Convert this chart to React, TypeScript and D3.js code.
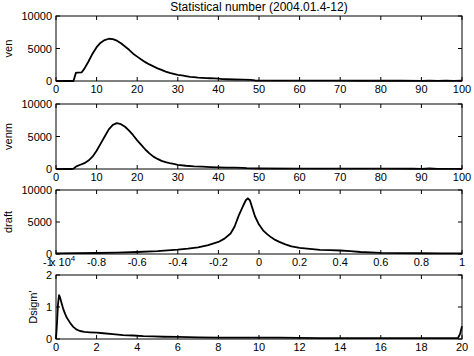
import React from "react";
import * as d3 from "d3";

const W = 474;
const H = 356;

const titleText = "Statistical number (2004.01.4-12)";

const venX = [0, 1, 2, 3, 4, 4.3, 4.9, 5.2, 6.3, 7, 8, 9, 10, 11, 12, 13, 14, 15, 16, 17, 18, 19, 20, 21, 22, 23, 24, 25, 26, 27, 28, 29, 30, 31, 32, 33, 34, 35, 36, 37, 38, 39, 40, 41, 42, 44, 46, 48, 49, 50, 55, 60, 65, 70, 75, 80, 85, 90, 92, 94, 96, 98, 100];
const venY = [0, 0, 0, 0, 0, 0, 1250, 1300, 1320, 1900, 3000, 4200, 5200, 5900, 6300, 6500, 6450, 6200, 5800, 5300, 4800, 4200, 3750, 3300, 2900, 2550, 2250, 1950, 1700, 1450, 1250, 1100, 950, 850, 750, 650, 580, 520, 480, 450, 420, 400, 380, 300, 270, 230, 200, 180, 80, 70, 60, 55, 50, 45, 40, 40, 35, 30, 60, 20, 70, 30, 50];

const venmX = [0, 1, 2, 3, 4, 4.3, 5, 6, 7, 8, 9, 10, 11, 12, 13, 14, 15, 16, 17, 18, 19, 20, 21, 22, 23, 24, 25, 26, 27, 28, 29, 30, 32, 34, 36, 38, 40, 42, 44, 46, 47, 50, 60, 70, 80, 88, 90, 92, 94, 96, 100];
const venmY = [0, 0, 0, 0, 0, 50, 400, 650, 900, 1300, 1900, 2800, 3900, 5000, 6100, 6800, 7050, 6900, 6500, 5900, 5200, 4400, 3700, 3000, 2400, 1900, 1550, 1250, 1050, 900, 800, 650, 500, 400, 350, 300, 250, 220, 200, 180, 120, 80, 60, 50, 50, 40, 30, 80, 20, 10, 10];

const draftX = [-1, -0.9, -0.8, -0.7, -0.6, -0.5, -0.4, -0.35, -0.3, -0.25, -0.2, -0.17, -0.14, -0.12, -0.1, -0.08, -0.065, -0.055, -0.045, -0.035, -0.02, 0, 0.02, 0.04, 0.06, 0.08, 0.1, 0.13, 0.16, 0.2, 0.25, 0.3, 0.35, 0.4, 0.45, 0.5, 0.6, 0.7, 0.8, 0.9, 1];
const draftY = [100, 130, 160, 220, 310, 450, 690, 850, 1050, 1400, 1880, 2400, 3200, 4300, 6000, 7400, 8400, 8700, 8400, 7400, 5900, 4600, 3700, 3100, 2600, 2200, 1900, 1500, 1200, 950, 800, 650, 600, 550, 450, 310, 180, 150, 120, 100, 90];

const dsX = [0, 0.05, 0.1, 0.15, 0.2, 0.28, 0.35, 0.44, 0.52, 0.61, 0.7, 0.85, 1, 1.18, 1.4, 1.67, 2, 2.33, 2.8, 3.3, 3.8, 4.3, 4.8, 5.3, 6, 7, 8, 9, 10, 11, 12, 13, 14, 15, 16, 17, 18, 19, 19.8, 19.9, 20];
const dsY = [0, 0.5, 1.1, 1.37, 1.3, 1.11, 0.95, 0.8, 0.68, 0.59, 0.5, 0.38, 0.3, 0.25, 0.22, 0.21, 0.2, 0.18, 0.15, 0.12, 0.11, 0.09, 0.08, 0.07, 0.065, 0.05, 0.045, 0.045, 0.04, 0.04, 0.035, 0.03, 0.03, 0.03, 0.03, 0.03, 0.03, 0.03, 0.03, 0.15, 0.4];

const ticks100 = [0, 10, 20, 30, 40, 50, 60, 70, 80, 90, 100];
const ticksDraft = [-1, -0.8, -0.6, -0.4, -0.2, 0, 0.2, 0.4, 0.6, 0.8, 1];
const tickLabelsDraft = ["-1", "-0.8", "-0.6", "-0.4", "-0.2", "0", "0.2", "0.4", "0.6", "0.8", "1"];
const ticks20 = [0, 2, 4, 6, 8, 10, 12, 14, 16, 18, 20];
const yTicks10000 = [0, 5000, 10000];
const yTicks2 = [0, 1, 2];

const FONT = "'Liberation Sans', Arial, Helvetica, sans-serif";
const FS = 11;

type PanelProps = {
  top: number;
  bottom: number;
  xs: number[];
  ys: number[];
  xDomain: [number, number];
  yDomain: [number, number];
  xTicks: number[];
  xTickLabels: string[];
  yTicks: number[];
  ylabel: string;
  exponent?: boolean;
};

const LEFT = 56;
const RIGHT = 462;

function Panel(p: PanelProps) {
  const x = d3.scaleLinear().domain(p.xDomain).range([LEFT, RIGHT]);
  const y = d3.scaleLinear().domain(p.yDomain).range([p.bottom, p.top]);
  const pts: [number, number][] = p.xs.map((v, i) => [v, p.ys[i]]);
  const line = d3
    .line<[number, number]>()
    .x((d) => x(d[0]))
    .y((d) => y(d[1]));
  const TL = 4;
  const yLabels = p.yTicks.map((t) => String(t));
  const maxLen = d3.max(yLabels, (s) => s.length) || 1;
  const labelW = maxLen * FS * 0.556;
  const ylabelX = 52 - labelW - 13;
  const midY = (p.top + p.bottom) / 2;
  return (
    <g>
      <path d={line(pts) || ""} fill="none" stroke="#000" strokeWidth={1.8} strokeLinejoin="round" />
      <rect x={LEFT} y={p.top} width={RIGHT - LEFT} height={p.bottom - p.top} fill="none" stroke="#000" strokeWidth={1} />
      {p.xTicks.map((t, i) => (
        <g key={"xt" + i}>
          <line x1={x(t)} x2={x(t)} y1={p.bottom} y2={p.bottom - TL} stroke="#000" />
          <line x1={x(t)} x2={x(t)} y1={p.top} y2={p.top + TL} stroke="#000" />
          <text
            x={p.exponent && i === 0 ? x(t) - 8 : x(t)}
            y={p.bottom + 12}
            textAnchor="middle"
            fontSize={FS}
            fontFamily={FONT}
          >
            {p.xTickLabels[i]}
          </text>
        </g>
      ))}
      {p.yTicks.map((t, i) => (
        <g key={"yt" + i}>
          <line x1={LEFT} x2={LEFT + TL} y1={y(t)} y2={y(t)} stroke="#000" />
          <line x1={RIGHT} x2={RIGHT - TL} y1={y(t)} y2={y(t)} stroke="#000" />
          <text x={52} y={y(t) + 4} textAnchor="end" fontSize={FS} fontFamily={FONT}>
            {yLabels[i]}
          </text>
        </g>
      ))}
      <text
        transform={`translate(${ylabelX},${midY}) rotate(-90)`}
        textAnchor="middle"
        dy={4}
        fontSize={FS}
        fontFamily={FONT}
      >
        {p.ylabel}
      </text>
      {p.exponent && (
        <text x={50} y={p.bottom + 12} fontSize={FS} fontFamily={FONT}>
          x 10
          <tspan dy={-5} fontSize={8}>4</tspan>
        </text>
      )}
    </g>
  );
}

export default function App() {
  return (
    <svg
      width={W}
      height={H}
      viewBox={`0 0 ${W} ${H}`}
      style={{ position: "absolute", left: 0, top: 0, background: "#fff" }}
    >
      <rect x={0} y={0} width={W} height={H} fill="#fff" />
      <text x={(LEFT + RIGHT) / 2} y={11} textAnchor="middle" fontSize={12} fontFamily={FONT}>
        {titleText}
      </text>
      <Panel top={16} bottom={81} xs={venX} ys={venY} xDomain={[0, 100]} yDomain={[0, 10000]} xTicks={ticks100} xTickLabels={ticks100.map(String)} yTicks={yTicks10000} ylabel="ven" />
      <Panel top={104} bottom={169} xs={venmX} ys={venmY} xDomain={[0, 100]} yDomain={[0, 10000]} xTicks={ticks100} xTickLabels={ticks100.map(String)} yTicks={yTicks10000} ylabel="venm" />
      <Panel top={190} bottom={254} xs={draftX} ys={draftY} xDomain={[-1, 1]} yDomain={[0, 10000]} xTicks={ticksDraft} xTickLabels={tickLabelsDraft} yTicks={yTicks10000} ylabel="draft" exponent />
      <Panel top={275} bottom={339} xs={dsX} ys={dsY} xDomain={[0, 20]} yDomain={[0, 2]} xTicks={ticks20} xTickLabels={ticks20.map(String)} yTicks={yTicks2} ylabel="Dsigm'" />
    </svg>
  );
}
